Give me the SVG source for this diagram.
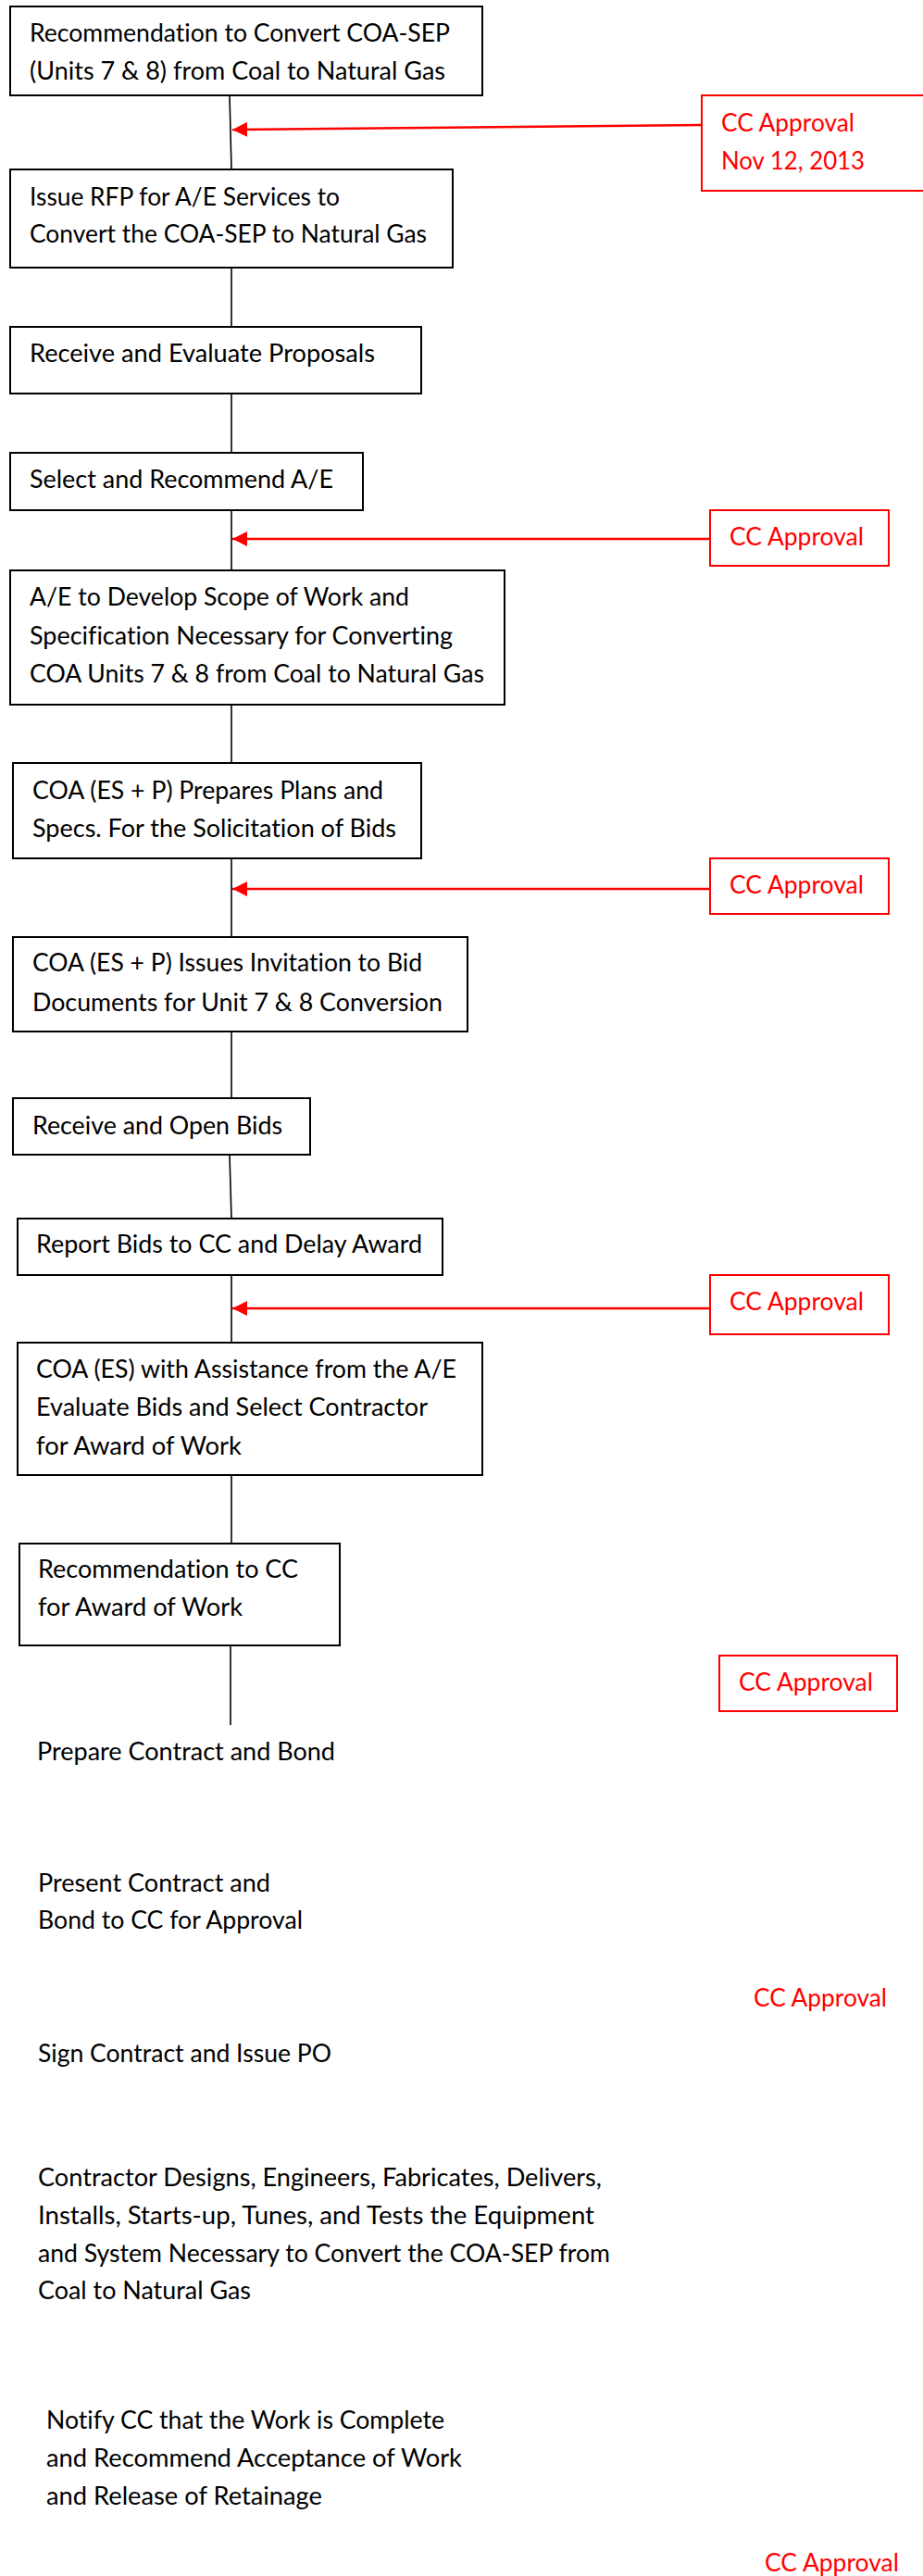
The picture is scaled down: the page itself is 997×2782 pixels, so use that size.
<svg xmlns="http://www.w3.org/2000/svg" width="997" height="2782" viewBox="0 0 997 2782">
<style>
.box{fill:#fff;stroke:#000;stroke-width:2}
.cc{fill:#fff;stroke:#ff0000;stroke-width:2}
.t{font-family:Lato,"Liberation Sans",sans-serif;font-size:26px;fill:#000;font-variant-ligatures:none}
.r{font-family:Lato,"Liberation Sans",sans-serif;font-size:26px;fill:#ff0000;font-variant-ligatures:none}
.ln{stroke:#000;stroke-width:1.6;fill:none}
.ar{stroke:#ff0000;stroke-width:2.5;fill:none}
</style>
<defs>
<marker id="ah" markerUnits="userSpaceOnUse" markerWidth="16" markerHeight="16" viewBox="0 0 14 14" refX="14" refY="7" orient="auto">
<path d="M0,0 L14,7 L0,14 Z" fill="#ff0000"/>
</marker>
</defs>
<rect width="997" height="2782" fill="#fff"/>
<g id="connectors">
<line class="ln" x1="248" y1="103" x2="250" y2="183"/>
<line class="ln" x1="250" y1="289" x2="250" y2="353"/>
<line class="ln" x1="250" y1="425" x2="250" y2="489"/>
<line class="ln" x1="250" y1="551" x2="250" y2="616"/>
<line class="ln" x1="250" y1="761" x2="250" y2="824"/>
<line class="ln" x1="250" y1="927" x2="250" y2="1012"/>
<line class="ln" x1="250" y1="1114" x2="250" y2="1186"/>
<line class="ln" x1="248" y1="1247" x2="250" y2="1316"/>
<line class="ln" x1="250" y1="1377" x2="250" y2="1450"/>
<line class="ln" x1="250" y1="1593" x2="250" y2="1667"/>
<line class="ln" x1="249" y1="1777" x2="249" y2="1863"/>
<line class="ar" x1="758" y1="135" x2="251" y2="140" marker-end="url(#ah)"/>
<line class="ar" x1="767" y1="582" x2="251" y2="582" marker-end="url(#ah)"/>
<line class="ar" x1="767" y1="960" x2="251" y2="960" marker-end="url(#ah)"/>
<line class="ar" x1="767" y1="1413" x2="251" y2="1413" marker-end="url(#ah)"/>
</g>
<g id="n1"><rect class="box" x="11" y="7" width="510" height="96"/>
<text class="t" x="32" y="45" textLength="454" lengthAdjust="spacingAndGlyphs">Recommendation to Convert COA-SEP</text>
<text class="t" x="32" y="86" textLength="449" lengthAdjust="spacingAndGlyphs">(Units 7 &amp; 8) from Coal to Natural Gas</text></g>
<g id="n2"><rect class="box" x="11" y="183" width="478" height="106"/>
<text class="t" x="32" y="222" textLength="335" lengthAdjust="spacingAndGlyphs">Issue RFP for A/E Services to</text>
<text class="t" x="32" y="262" textLength="429" lengthAdjust="spacingAndGlyphs">Convert the COA-SEP to Natural Gas</text></g>
<g id="n3"><rect class="box" x="11" y="353" width="444" height="72"/>
<text class="t" x="32" y="391" textLength="373" lengthAdjust="spacingAndGlyphs">Receive and Evaluate Proposals</text></g>
<g id="n4"><rect class="box" x="11" y="489" width="381" height="62"/>
<text class="t" x="32" y="527" textLength="328" lengthAdjust="spacingAndGlyphs">Select and Recommend A/E</text></g>
<g id="n5"><rect class="box" x="11" y="616" width="534" height="145"/>
<text class="t" x="32" y="654" textLength="410" lengthAdjust="spacingAndGlyphs">A/E to Develop Scope of Work and</text>
<text class="t" x="32" y="696" textLength="457" lengthAdjust="spacingAndGlyphs">Specification Necessary for Converting</text>
<text class="t" x="32" y="737" textLength="491" lengthAdjust="spacingAndGlyphs">COA Units 7 &amp; 8 from Coal to Natural Gas</text></g>
<g id="n6"><rect class="box" x="14" y="824" width="441" height="103"/>
<text class="t" x="35" y="863" textLength="379" lengthAdjust="spacingAndGlyphs">COA (ES + P) Prepares Plans and</text>
<text class="t" x="35" y="904" textLength="393" lengthAdjust="spacingAndGlyphs">Specs. For the Solicitation of Bids</text></g>
<g id="n7"><rect class="box" x="14" y="1012" width="491" height="102"/>
<text class="t" x="35" y="1049" textLength="421" lengthAdjust="spacingAndGlyphs">COA (ES + P) Issues Invitation to Bid</text>
<text class="t" x="35" y="1092" textLength="443" lengthAdjust="spacingAndGlyphs">Documents for Unit 7 &amp; 8 Conversion</text></g>
<g id="n8"><rect class="box" x="14" y="1186" width="321" height="61"/>
<text class="t" x="35" y="1225" textLength="270" lengthAdjust="spacingAndGlyphs">Receive and Open Bids</text></g>
<g id="n9"><rect class="box" x="19" y="1316" width="459" height="61"/>
<text class="t" x="39" y="1353" textLength="417" lengthAdjust="spacingAndGlyphs">Report Bids to CC and Delay Award</text></g>
<g id="n10"><rect class="box" x="19" y="1450" width="502" height="143"/>
<text class="t" x="39" y="1488" textLength="454" lengthAdjust="spacingAndGlyphs">COA (ES) with Assistance from the A/E</text>
<text class="t" x="39" y="1529" textLength="423" lengthAdjust="spacingAndGlyphs">Evaluate Bids and Select Contractor</text>
<text class="t" x="39" y="1571" textLength="222" lengthAdjust="spacingAndGlyphs">for Award of Work</text></g>
<g id="n11"><rect class="box" x="21" y="1667" width="346" height="110"/>
<text class="t" x="41" y="1704" textLength="281" lengthAdjust="spacingAndGlyphs">Recommendation to CC</text>
<text class="t" x="41" y="1745" textLength="221" lengthAdjust="spacingAndGlyphs">for Award of Work</text></g>
<g id="n12"><text class="t" x="40" y="1901" textLength="322" lengthAdjust="spacingAndGlyphs">Prepare Contract and Bond</text></g>
<g id="n13"><text class="t" x="41" y="2043" textLength="251" lengthAdjust="spacingAndGlyphs">Present Contract and</text>
<text class="t" x="41" y="2083" textLength="286" lengthAdjust="spacingAndGlyphs">Bond to CC for Approval</text></g>
<g id="n14"><text class="t" x="41" y="2227" textLength="317" lengthAdjust="spacingAndGlyphs">Sign Contract and Issue PO</text></g>
<g id="n15"><text class="t" x="41" y="2361" textLength="609" lengthAdjust="spacingAndGlyphs">Contractor Designs, Engineers, Fabricates, Delivers,</text>
<text class="t" x="41" y="2402" textLength="601" lengthAdjust="spacingAndGlyphs">Installs, Starts-up, Tunes, and Tests the Equipment</text>
<text class="t" x="41" y="2443" textLength="618" lengthAdjust="spacingAndGlyphs">and System Necessary to Convert the COA-SEP from</text>
<text class="t" x="41" y="2483" textLength="230" lengthAdjust="spacingAndGlyphs">Coal to Natural Gas</text></g>
<g id="n16"><text class="t" x="50" y="2623" textLength="430" lengthAdjust="spacingAndGlyphs">Notify CC that the Work is Complete</text>
<text class="t" x="50" y="2664" textLength="449" lengthAdjust="spacingAndGlyphs">and Recommend Acceptance of Work</text>
<text class="t" x="50" y="2705" textLength="298" lengthAdjust="spacingAndGlyphs">and Release of Retainage</text></g>
<g id="cc1"><rect class="cc" x="758" y="103" width="245" height="103"/>
<text class="r" x="779" y="142" textLength="144" lengthAdjust="spacingAndGlyphs">CC Approval</text>
<text class="r" x="779" y="183" textLength="155" lengthAdjust="spacingAndGlyphs">Nov 12, 2013</text></g>
<g id="cc2"><rect class="cc" x="767" y="551" width="193" height="60"/>
<text class="r" x="788" y="589" textLength="145" lengthAdjust="spacingAndGlyphs">CC Approval</text></g>
<g id="cc3"><rect class="cc" x="767" y="927" width="193" height="60"/>
<text class="r" x="788" y="965" textLength="145" lengthAdjust="spacingAndGlyphs">CC Approval</text></g>
<g id="cc4"><rect class="cc" x="767" y="1377" width="193" height="64"/>
<text class="r" x="788" y="1415" textLength="145" lengthAdjust="spacingAndGlyphs">CC Approval</text></g>
<g id="cc5"><rect class="cc" x="777" y="1788" width="192" height="60"/>
<text class="r" x="798" y="1826" textLength="145" lengthAdjust="spacingAndGlyphs">CC Approval</text></g>
<g id="cc6"><text class="r" x="814" y="2167" textLength="144" lengthAdjust="spacingAndGlyphs">CC Approval</text></g>
<g id="cc7"><text class="r" x="826" y="2777" textLength="145" lengthAdjust="spacingAndGlyphs">CC Approval</text></g>
</svg>
